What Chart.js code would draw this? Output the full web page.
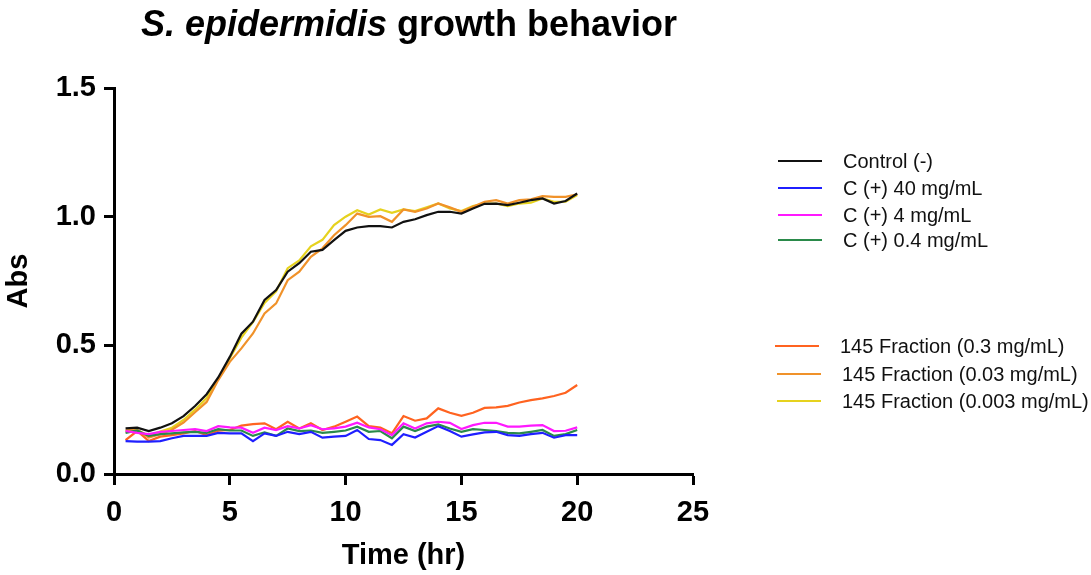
<!DOCTYPE html>
<html>
<head>
<meta charset="utf-8">
<script src="https://cdn.jsdelivr.net/npm/chart.js@4.4.1/dist/chart.umd.min.js"></script>
<style>
  html, body { margin: 0; padding: 0; background: #fff; }
  #wrap { position: relative; width: 1091px; height: 575px; overflow: hidden; }
  #chart { position: absolute; left: 0; top: 0; }
  #title {
    position: absolute; left: 0; width: 818px; top: 2px; text-align: center;
    font-family: "Liberation Sans", Arial, sans-serif; font-weight: bold;
    font-size: 36px; line-height: 44px; color: #000; white-space: nowrap;
  }
  .leg { position: absolute; height: 22px; font-family: "Liberation Sans", Arial, sans-serif;
    font-size: 20px; line-height: 22px; color: #111; white-space: nowrap; }
  .leg .sw { position: absolute; left: 0; top: 10px; width: 44px; height: 2px; }
  .leg .tx { position: absolute; left: 65px; top: 0; }
</style>
</head>
<body>
<div id="wrap">
  <canvas id="chart" width="1091" height="575"></canvas>
  <div id="title"><i>S. epidermidis</i> growth behavior</div>
</div>
<script>
// Sampling times (hours)
const timeHr = [0.5, 1, 1.5, 2, 2.5, 3, 3.5, 4, 4.5, 5,
                5.5, 6, 6.5, 7, 7.5, 8, 8.5, 9, 9.5, 10,
                10.5, 11, 11.5, 12, 12.5, 13, 13.5, 14, 14.5, 15,
                15.5, 16, 16.5, 17, 17.5, 18, 18.5, 19, 19.5, 20];

// Absorbance readings per condition
const controlNeg = [0.177, 0.180, 0.167, 0.180, 0.197, 0.225, 0.264, 0.310, 0.375, 0.455,
                    0.545, 0.592, 0.676, 0.715, 0.786, 0.819, 0.864, 0.871, 0.909, 0.945,
                    0.958, 0.963, 0.963, 0.958, 0.980, 0.990, 1.006, 1.019, 1.019, 1.012,
                    1.032, 1.050, 1.051, 1.045, 1.054, 1.064, 1.071, 1.051, 1.061, 1.090];
const cPos40 = [0.128, 0.126, 0.126, 0.128, 0.139, 0.148, 0.148, 0.148, 0.160, 0.158,
                0.158, 0.128, 0.158, 0.148, 0.164, 0.155, 0.164, 0.141, 0.145, 0.148,
                0.171, 0.136, 0.132, 0.113, 0.155, 0.142, 0.164, 0.186, 0.167, 0.145,
                0.154, 0.162, 0.164, 0.151, 0.148, 0.155, 0.160, 0.141, 0.151, 0.151];
const cPos4 = [0.167, 0.160, 0.155, 0.164, 0.167, 0.171, 0.174, 0.167, 0.186, 0.181,
               0.180, 0.160, 0.180, 0.171, 0.186, 0.177, 0.190, 0.174, 0.177, 0.184,
               0.199, 0.181, 0.174, 0.151, 0.197, 0.177, 0.197, 0.203, 0.199, 0.175,
               0.190, 0.199, 0.199, 0.184, 0.184, 0.188, 0.190, 0.167, 0.168, 0.181];
const cPos04 = [0.160, 0.169, 0.148, 0.155, 0.158, 0.162, 0.164, 0.160, 0.174, 0.169,
                0.169, 0.148, 0.162, 0.148, 0.177, 0.167, 0.169, 0.160, 0.164, 0.169,
                0.184, 0.164, 0.167, 0.139, 0.184, 0.167, 0.184, 0.193, 0.177, 0.164,
                0.174, 0.171, 0.167, 0.160, 0.158, 0.164, 0.171, 0.148, 0.155, 0.171];
const frac03 = [0.132, 0.167, 0.128, 0.145, 0.151, 0.158, 0.167, 0.151, 0.168, 0.171,
                0.188, 0.194, 0.197, 0.174, 0.203, 0.177, 0.197, 0.171, 0.184, 0.203,
                0.223, 0.186, 0.180, 0.158, 0.225, 0.207, 0.216, 0.255, 0.238, 0.226,
                0.238, 0.257, 0.259, 0.265, 0.278, 0.287, 0.294, 0.303, 0.316, 0.346];
const frac003 = [0.170, 0.172, 0.142, 0.155, 0.172, 0.200, 0.240, 0.280, 0.365, 0.436,
                 0.488, 0.546, 0.624, 0.663, 0.753, 0.786, 0.844, 0.877, 0.928, 0.967,
                 1.012, 0.999, 1.002, 0.980, 1.028, 1.019, 1.032, 1.051, 1.036, 1.019,
                 1.038, 1.058, 1.064, 1.051, 1.064, 1.067, 1.080, 1.077, 1.077, 1.087];
const frac0003 = [0.165, 0.170, 0.150, 0.165, 0.180, 0.210, 0.250, 0.295, 0.370, 0.450,
                  0.530, 0.590, 0.665, 0.710, 0.800, 0.830, 0.885, 0.910, 0.967, 1.000,
                  1.025, 1.008, 1.028, 1.015, 1.028, 1.022, 1.036, 1.051, 1.032, 1.022,
                  1.041, 1.051, 1.051, 1.041, 1.051, 1.054, 1.071, 1.058, 1.058, 1.084];

const seriesNames = ["Control (-)", "C (+) 40 mg/mL", "C (+) 4 mg/mL", "C (+) 0.4 mg/mL",
                     "145 Fraction (0.3 mg/mL)", "145 Fraction (0.03 mg/mL)", "145 Fraction (0.003 mg/mL)"];
const seriesValues = [controlNeg, cPos40, cPos4, cPos04, frac03, frac003, frac0003];
const seriesColors = ["#111111", "#1f1fff", "#ff19ff", "#2a8a4a", "#ff6320", "#f0922a", "#e6d21e"];

// x-axis and y-axis tick values
const xTicks = [0, 5, 10, 15, 20, 25];
const yTicks = [0.0, 0.5, 1.0, 1.5];

const datasets = seriesNames.map((name, i) => ({
  label: name,
  data: timeHr.map((t, j) => ({ x: t, y: seriesValues[i][j] })),
  borderColor: seriesColors[i],
  backgroundColor: seriesColors[i],
  borderWidth: 2.2,
  pointRadius: 0,
  tension: 0,
  fill: false
}));

const tickFont = { family: "'Liberation Sans', Arial, sans-serif", size: 29, weight: 'bold' };
const titleFont = { family: "'Liberation Sans', Arial, sans-serif", size: 29, weight: 'bold' };

new Chart(document.getElementById('chart'), {
  type: 'line',
  data: { datasets },
  options: {
    responsive: false,
    animation: false,
    layout: { padding: { left: 0, right: 398, top: 88, bottom: 0 } },
    plugins: { legend: { display: false }, title: { display: false }, tooltip: { enabled: false } },
    scales: {
      x: {
        type: 'linear', min: 0, max: 25,
        afterBuildTicks: (s) => { s.ticks = xTicks.map(v => ({ value: v })); },
        afterFit: (s) => { s.height = 101; },
        border: { display: true, width: 3, color: '#000' },
        grid: { drawOnChartArea: false, drawTicks: true, tickLength: 11, tickWidth: 3, tickColor: '#000' },
        ticks: { color: '#000', font: tickFont, padding: 11, maxRotation: 0 },
        title: { display: true, text: 'Time (hr)', color: '#000', font: titleFont, padding: { top: 0, bottom: 2 } }
      },
      y: {
        type: 'linear', min: 0, max: 1.5,
        afterBuildTicks: (s) => { s.ticks = yTicks.map(v => ({ value: v })); },
        afterFit: (s) => { s.width = 114; },
        border: { display: true, width: 3, color: '#000' },
        grid: { drawOnChartArea: false, drawTicks: true, tickLength: 10, tickWidth: 3, tickColor: '#000' },
        ticks: { color: '#000', font: tickFont, padding: 8, callback: (v) => Number(v).toFixed(1) },
        title: { display: true, text: 'Abs', color: '#000', font: titleFont, padding: { top: 2, bottom: 0 } }
      }
    }
  }
});

// Legend: two groups of entries at the right of the plot
const legendRows = [
  { x: 778, y: 150 }, { x: 778, y: 177 }, { x: 778, y: 204 }, { x: 778, y: 229 },
  { x: 775, y: 335 }, { x: 777, y: 363 }, { x: 777, y: 390 }
];
const wrap = document.getElementById('wrap');
seriesNames.forEach((name, i) => {
  const row = document.createElement('div');
  row.className = 'leg';
  row.style.left = legendRows[i].x + 'px';
  row.style.top = legendRows[i].y + 'px';
  const sw = document.createElement('div');
  sw.className = 'sw';
  sw.style.background = seriesColors[i];
  const tx = document.createElement('div');
  tx.className = 'tx';
  tx.textContent = name;
  row.appendChild(sw);
  row.appendChild(tx);
  wrap.appendChild(row);
});
</script>
</body>
</html>
